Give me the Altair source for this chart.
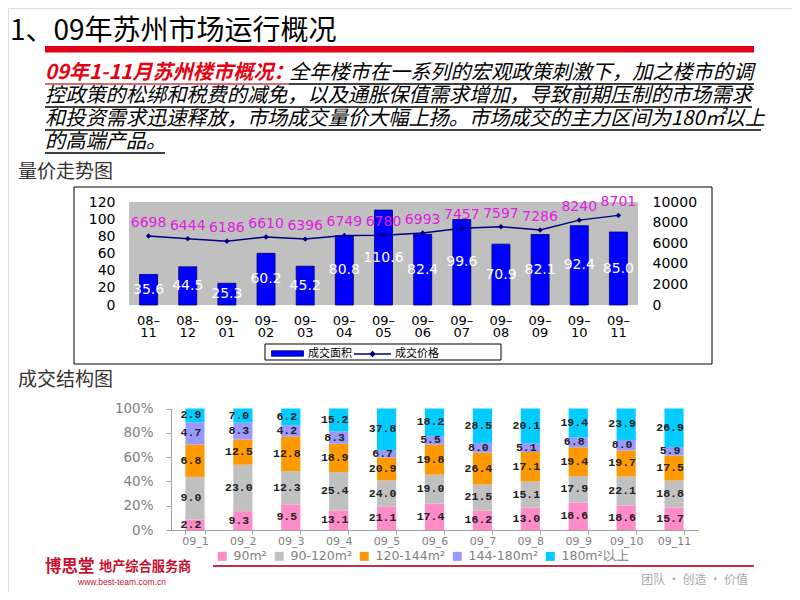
import altair as alt
import pandas as pd

# ---------------- data ----------------
months = ["08-11", "08-12", "09-01", "09-02", "09-03", "09-04", "09-05",
          "09-06", "09-07", "09-08", "09-09", "09-10", "09-11"]
area = [35.6, 44.5, 25.3, 60.2, 45.2, 80.8, 110.6, 82.4, 99.6, 70.9, 82.1, 92.4, 85.0]
price = [6698, 6444, 6186, 6610, 6396, 6749, 6780, 6993, 7457, 7597, 7286, 8240, 8701]
series_names = ["成交面积", "成交价格"]
area_ticks = [0, 20, 40, 60, 80, 100, 120]
price_ticks = [0, 2000, 4000, 6000, 8000, 10000]

struct_months = ["09_1", "09_2", "09_3", "09_4", "09_5", "09_6",
                 "09_7", "09_8", "09_9", "09_10", "09_11"]
segments = ["90m²", "90-120m²", "120-144m²", "144-180m²", "180m²以上"]
seg_90 = [2.2, 9.3, 9.5, 13.1, 21.1, 17.4, 16.2, 13.0, 18.6, 18.6, 15.7]
seg_90_120 = [9.0, 23.0, 12.3, 25.4, 24.0, 19.0, 21.5, 15.1, 17.9, 22.1, 18.8]
seg_120_144 = [6.8, 12.5, 12.8, 18.9, 20.9, 19.8, 26.4, 17.1, 19.4, 19.7, 17.5]
seg_144_180 = [4.7, 8.3, 4.2, 8.3, 6.7, 5.5, 8.0, 5.1, 6.8, 8.0, 5.9]
seg_180_up = [2.9, 7.0, 6.2, 15.2, 37.8, 18.2, 28.5, 20.1, 19.4, 23.9, 26.9]
pct_ticks = [0, 0.2, 0.4, 0.6, 0.8, 1.0]
seg_colors = ["#FF8CC8", "#C0C0C0", "#FF9900", "#9999FF", "#00CCFF"]

title_text = "1、09年苏州市场运行概况"
lead_text = "09年1-11月苏州楼市概况："
body_lines = [
    "全年楼市在一系列的宏观政策刺激下，加之楼市的调",
    "控政策的松绑和税费的减免，以及通胀保值需求增加，导致前期压制的市场需求",
    "和投资需求迅速释放，市场成交量价大幅上扬。市场成交的主力区间为180㎡以上",
    "的高端产品。",
]
sub_top = "量价走势图"
sub_bottom = "成交结构图"
logo_a = "博思堂"
logo_b = "地产综合服务商"
url_text = "www.best-team.com.cn"
slogan_text = "团队 · 创造 · 价值"

CJK = "Noto Sans CJK SC"
NUM = "DejaVu Sans"


# ---------------- helpers for slide decoration ----------------
def txt(s, x, y, **kw):
    return alt.Chart(pd.DataFrame({"t": [s]})).mark_text(**kw).encode(
        x=alt.value(x), y=alt.value(y), text="t:N")


def box(x, x2, y, y2, **kw):
    return alt.Chart(pd.DataFrame({"k": [0]})).mark_rect(**kw).encode(
        x=alt.value(x), x2=alt.value(x2), y=alt.value(y), y2=alt.value(y2))


def hline(x, x2, y, **kw):
    return alt.Chart(pd.DataFrame({"k": [0]})).mark_rule(**kw).encode(
        x=alt.value(x), x2=alt.value(x2), y=alt.value(y))


deco = [
    txt(title_text, 2, 24, font=CJK, fontSize=28, align="left", baseline="middle", color="#000"),
    box(37, 746, 38, 44.5, fill="#E0001A"),
    txt(lead_text, 37, 65, font=CJK, fontSize=20.2, fontWeight="bold", fontStyle="italic",
        align="left", baseline="middle", color="#E60012"),
    txt(body_lines[0], 281, 65, font=CJK, fontSize=20.2, fontStyle="italic",
        align="left", baseline="middle", color="#000"),
    txt(body_lines[1], 37, 88, font=CJK, fontSize=20.2, fontStyle="italic",
        align="left", baseline="middle", color="#000"),
    txt(body_lines[2], 37, 111, font=CJK, fontSize=20.2, fontStyle="italic",
        align="left", baseline="middle", color="#000"),
    txt(body_lines[3], 37, 134, font=CJK, fontSize=20.2, fontStyle="italic",
        align="left", baseline="middle", color="#000"),
    hline(37, 281, 76, color="#C04040", strokeWidth=1.3),
    hline(281, 746, 76, color="#000", strokeWidth=1.3),
    hline(37, 744, 99, color="#000", strokeWidth=1.3),
    hline(37, 753, 122, color="#000", strokeWidth=1.3),
    hline(37, 157, 145, color="#000", strokeWidth=1.3),
    txt(sub_top, 10, 164, font=CJK, fontSize=19, align="left", baseline="middle", color="#333"),
    txt(sub_bottom, 10, 372, font=CJK, fontSize=19, align="left", baseline="middle", color="#333"),
    # top chart frame, plot background, legend box
    box(66, 704, 179, 356, fill="white", stroke="#000", strokeWidth=1),
    box(121, 630, 194, 297, fill="#C0C0C0"),
    box(257, 493, 336, 352, fill="white", stroke="#000", strokeWidth=1),
    # footer
    txt(logo_a, 37, 559, font=CJK, fontSize=16.5, fontWeight="bold", align="left",
        baseline="middle", color="#C8102E"),
    txt(logo_b, 91, 559, font=CJK, fontSize=13.2, fontWeight="bold", align="left",
        baseline="middle", color="#C8102E"),
    txt(url_text, 70, 574, font="Liberation Sans", fontSize=8.5, align="left",
        baseline="middle", color="#C8102E"),
    hline(205, 746, 558, color="#C0304A", strokeWidth=2),
    txt(slogan_text, 740, 572, font=CJK, fontSize=12, align="right",
        baseline="middle", color="#A8A8A8"),
]

# ---------------- top chart: volume & price ----------------
df_top = pd.DataFrame({"month": months, "area": area, "price": price})
df_top["sA"] = series_names[0]
df_top["sB"] = series_names[1]

x_top = alt.X(
    "month:N", sort=months, title=None,
    scale=alt.Scale(range=[121, 630], paddingInner=0.54, paddingOuter=0.27),
    axis=alt.Axis(orient="bottom", offset=-287, domain=False, ticks=False, grid=False,
                  zindex=1, labelAngle=0, labelFont=NUM, labelFontSize=13, labelColor="#000",
                  labelPadding=9, labelBaseline="top", labelLineHeight=12.5,
                  labelExpr="[substring(datum.label,0,2)+'–', substring(datum.label,3,5)]"),
)
area_scale = alt.Scale(domain=[0, 120], range=[297, 194])
area_axis = alt.Axis(orient="left", offset=-121, domain=False, ticks=False, grid=False,
                     zindex=1, values=area_ticks, labelFont=NUM, labelFontSize=14,
                     labelColor="#000", labelPadding=14, title=None)
price_scale = alt.Scale(domain=[0, 10000], range=[297, 194])
price_axis = alt.Axis(orient="right", offset=-154, domain=False, ticks=False, grid=False,
                      zindex=1, values=price_ticks, format="d", labelFont=NUM, labelFontSize=14,
                      labelColor="#000", labelPadding=14, title=None)

bars = alt.Chart(df_top).mark_bar(stroke="#000066", strokeWidth=0.8).encode(
    x=x_top,
    y=alt.Y("area:Q", scale=area_scale, axis=area_axis),
    color=alt.Color("sA:N", scale=alt.Scale(domain=[series_names[0]], range=["#0000FF"]),
                    legend=alt.Legend(orient="none", legendX=263, legendY=329, title=None,
                                      symbolType="M-1,-0.17L1,-0.17L1,0.17L-1,0.17Z",
                                      symbolSize=1024, symbolStrokeColor="#000066",
                                      symbolStrokeWidth=0.8, labelFont=CJK, labelFontSize=11,
                                      labelColor="#000", labelOffset=4, padding=0)),
)
bar_labels = alt.Chart(df_top).transform_calculate(half="datum.area/2").mark_text(
    color="white", font=NUM, fontSize=14).encode(
    x=x_top,
    y=alt.Y("half:Q", scale=area_scale, axis=area_axis),
    text=alt.Text("area:Q", format=".1f"),
)
price_line = alt.Chart(df_top).mark_line(strokeWidth=1.5).encode(
    x=x_top,
    y=alt.Y("price:Q", scale=price_scale, axis=price_axis),
    stroke=alt.Stroke("sB:N", scale=alt.Scale(domain=[series_names[1]], range=["#000080"]),
                      legend=alt.Legend(orient="none", legendX=345, legendY=326.5, title=None,
                                        symbolType="M-1,0L1,0M-0.13,0L0,-0.13L0.13,0L0,0.13Z",
                                        symbolSize=1369, symbolStrokeWidth=1.3,
                                        symbolFillColor="#000080", labelFont=CJK,
                                        labelFontSize=11, labelColor="#000", labelOffset=3,
                                        padding=0)),
)
price_points = alt.Chart(df_top).mark_point(shape="diamond", filled=True, size=30,
                                            color="#000080", opacity=1).encode(
    x=x_top, y=alt.Y("price:Q", scale=price_scale, axis=price_axis))
price_labels = alt.Chart(df_top).mark_text(color="#E020E0", font=NUM, fontSize=14, dy=-13).encode(
    x=x_top, y=alt.Y("price:Q", scale=price_scale, axis=price_axis),
    text=alt.Text("price:Q", format="d"))

top_group = alt.layer(
    alt.layer(bars, bar_labels),
    alt.layer(price_line, price_points, price_labels),
).resolve_scale(y="independent")

# ---------------- bottom chart: structure ----------------
rows = []
for i, m in enumerate(struct_months):
    for j, vals in enumerate([seg_90, seg_90_120, seg_120_144, seg_144_180, seg_180_up]):
        rows.append({"month": m, "seg": segments[j], "order": j, "val": vals[i]})
df_bot = pd.DataFrame(rows)

x_bot = alt.X(
    "month:N", sort=struct_months, title=None,
    scale=alt.Scale(range=[163, 690], paddingInner=0.6, paddingOuter=0.3),
    axis=alt.Axis(orient="bottom", offset=-62, domainColor="#A0A0A0", tickColor="#A0A0A0",
                  tickBand="extent", tickSize=4, grid=False, labelAngle=0, labelFont=NUM,
                  labelFontSize=11, labelColor="#808080", labelPadding=1),
)
pct_scale = alt.Scale(domain=[0, 1], range=[522, 400.5])
pct_axis = alt.Axis(orient="left", offset=-163, values=pct_ticks, format="%", grid=False,
                    domainColor="#A0A0A0", tickColor="#A0A0A0", tickSize=5,
                    labelFont=NUM, labelFontSize=13.5, labelColor="#808080",
                    labelPadding=13, title=None)

base_bot = alt.Chart(df_bot).transform_stack(
    stack="val", groupby=["month"], as_=["v0", "v1"], offset="normalize",
    sort=[alt.SortField("order", order="ascending")],
).transform_calculate(mid="(datum.v0 + datum.v1) / 2")

stack_bars = base_bot.mark_bar().encode(
    x=x_bot,
    y=alt.Y("v0:Q", scale=pct_scale, axis=pct_axis),
    y2="v1:Q",
    color=alt.Color("seg:N", sort=segments,
                    scale=alt.Scale(domain=segments, range=seg_colors),
                    legend=alt.Legend(orient="none", legendX=208, legendY=542, title=None,
                                      direction="horizontal", symbolType="square",
                                      symbolSize=81, symbolStrokeWidth=0, labelFont=NUM,
                                      labelFontSize=12.5, labelColor="#808080", labelOffset=5,
                                      columnPadding=6, padding=0)),
)
stack_labels = base_bot.mark_text(font="Liberation Mono", fontSize=11.5, fontWeight="bold",
                                  color="#222", dx=-4).encode(
    x=x_bot,
    y=alt.Y("mid:Q", scale=pct_scale, axis=pct_axis),
    text=alt.Text("val:Q", format=".1f"),
)
bottom_group = alt.layer(stack_bars, stack_labels)

chart = alt.layer(*deco, top_group, bottom_group).resolve_scale(
    x="independent", y="independent", color="independent"
).properties(
    width=784, height=584, padding=0,
    autosize=alt.AutoSizeParams(type="none"),
).configure_view(stroke=None).configure(background="white")

chart.save("out.html", embed_options={"renderer": "svg", "actions": False})
